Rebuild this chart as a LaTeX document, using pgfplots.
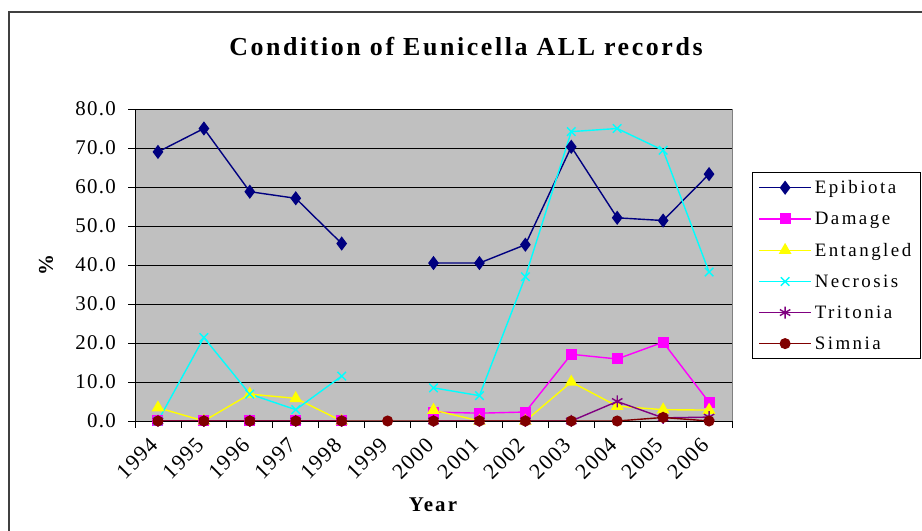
\documentclass[border=0pt]{standalone}
\usepackage{fontspec}
\setmainfont[LetterSpace=4]{Liberation Serif}
\newfontfamily\titlefont[LetterSpace=10]{Liberation Serif}
\newfontfamily\tickfont[LetterSpace=6]{Liberation Serif}
\newfontfamily\legfont[LetterSpace=13]{Liberation Serif}
\usepackage{pgfplots}
\pgfplotsset{compat=1.18}
\usepackage{pgfplotstable}

\definecolor{epib}{HTML}{000080}
\definecolor{dama}{HTML}{FF00FF}
\definecolor{enta}{HTML}{FFFF00}
\definecolor{necr}{HTML}{00FFFF}
\definecolor{trit}{HTML}{800080}
\definecolor{simn}{HTML}{800000}
\definecolor{plotgray}{HTML}{C0C0C0}

% x = category index (0 = 1994 ... 12 = 2006)
\pgfplotstableread{
x  epi   dam   ent   nec   tri   sim
0  69.0  0     3.4   0     0     0
1  75.0  0     0     21.4  0     0
2  58.8  0     6.9   6.9   0     0
3  57.1  0     5.8   2.9   0     0
4  45.5  0     0     11.5  0     0
5  nan   nan   nan   nan   nan   0
6  40.5  2.3   2.8   8.5   0     0
7  40.5  2.0   0     6.5   0     0
8  45.2  2.3   0     37.0  0     0
9  70.3  17.1  10.0  74.2  0     0
10 52.1  15.9  3.8   75.0  5.0   0
11 51.4  20.2  2.9   69.4  0.8   0.9
12 63.3  4.8   2.8   38.2  1.0   0
}\datatable

\begin{document}
\begin{tikzpicture}[x=1bp,y=1bp]
\useasboundingbox (0,0) rectangle (922,531);
\draw[line width=1.2bp,color=black!75] (9,0) -- (9,519) -- (922,519);
\node[font=\titlefont\fontsize{26}{26}\selectfont\bfseries] at (466,484) {Condition of Eunicella ALL records};
\node[font=\fontsize{21}{21}\selectfont\bfseries,rotate=90] at (46,266) {\%};
\node[font=\titlefont\fontsize{21}{21}\selectfont\bfseries] at (433,26) {Year};
\begin{axis}[
  at={(135bp,110bp)}, anchor=south west,
  scale only axis, width=597bp, height=312bp,
  xmin=-0.5, xmax=12.5, ymin=0, ymax=80,
  axis lines=left, axis line style={-, line width=0.8pt, black},
  axis background/.style={fill=plotgray, draw=black!50},
  ymajorgrids, grid style={black, line width=0.7pt},
  ytick distance=10,
  xtick={-0.5,0.5,...,12.5},
  x tick label as interval,
  xticklabels={1994,1995,1996,1997,1998,1999,2000,2001,2002,2003,2004,2005,2006},
  tick align=outside, major tick length=7bp,
  tick style={black, line width=0.8pt},
  /pgf/number format/fixed, /pgf/number format/fixed zerofill,
  /pgf/number format/precision=1, /pgf/number format/assume math mode=true,
  yticklabel style={font=\tickfont\fontsize{21}{21}\selectfont, inner xsep=0pt, xshift=-12bp},
  xticklabel style={font=\tickfont\fontsize{22}{22}\selectfont, inner sep=0pt, xshift=-9bp, yshift=-8bp, rotate=45, anchor=north east},
  unbounded coords=jump,
  every axis plot/.append style={line width=1.4bp},
  legend style={at={(1.0335,0.798)}, anchor=north west, draw=black, line width=0.8pt,
    fill=white, font=\legfont\fontsize{19}{19}\selectfont, row sep=15bp,
    inner xsep=6bp, inner ysep=7bp, nodes={inner xsep=3bp, inner ysep=1pt}},
  legend cell align=left,
  legend image code/.code={\draw[mark repeat=2,mark phase=2,#1] plot coordinates {(0bp,0bp) (26bp,0bp) (52bp,0bp)};},
]
\addplot[color=epib, mark=diamond*, mark size=6bp, mark options={fill=epib}] table[x=x,y=epi] {\datatable};
\addplot[color=dama, mark=square*, mark size=4.8bp, mark options={fill=dama}] table[x=x,y=dam] {\datatable};
\addplot[color=enta, mark=triangle*, mark size=6bp, mark options={fill=enta}] table[x=x,y=ent] {\datatable};
\addplot[color=necr, mark=x, mark size=6bp] table[x=x,y=nec] {\datatable};
\addplot[color=trit, mark=asterisk, mark size=6bp] table[x=x,y=tri] {\datatable};
\addplot[color=simn, mark=*, mark size=4.8bp, mark options={fill=simn}] table[x=x,y=sim] {\datatable};
\legend{Epibiota,Damage,Entangled,Necrosis,Tritonia,Simnia}
\end{axis}
\end{tikzpicture}
\end{document}
